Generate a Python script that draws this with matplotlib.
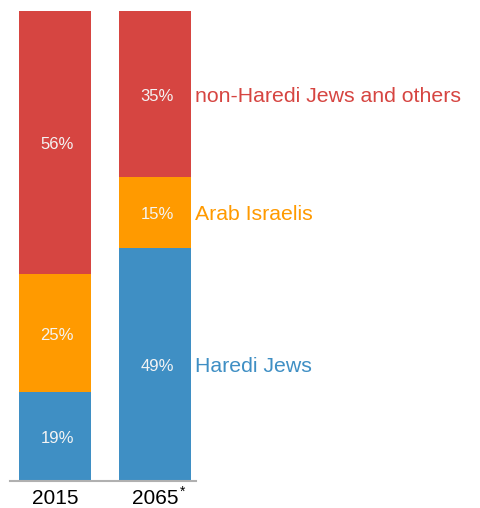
import matplotlib
matplotlib.use("Agg")
import matplotlib.pyplot as plt
import numpy as np

years = ["2015", "2065"]
groups = ["Haredi Jews", "Arab Israelis", "non-Haredi Jews and others"]
values = {
    "Haredi Jews": [19, 49],
    "Arab Israelis": [25, 15],
    "non-Haredi Jews and others": [56, 35],
}
colors = {
    "Haredi Jews": "#3f8fc4",
    "Arab Israelis": "#ff9a00",
    "non-Haredi Jews and others": "#d64541",
}

plt.rcParams['font.family'] = ['Liberation Sans', 'DejaVu Sans']

fig = plt.figure(figsize=(4.81, 5.08), dpi=100)
ax = fig.add_axes([10/481, 27/508, 186/481, 470/508])

x = np.arange(len(years))
totals = np.sum([values[g] for g in groups], axis=0)
bottom = np.zeros(len(years))
width = 0.72
for g in groups:
    v = np.array(values[g], dtype=float)
    h = v / totals * 100
    ax.bar(x, h, width, bottom=bottom, color=colors[g], linewidth=0)
    for i in range(len(years)):
        ax.annotate(f"{values[g][i]}%", (x[i] + 0.02, bottom[i] + h[i] / 2),
                    xytext=(0, -1.5), textcoords="offset points", color="#f4f4f4",
                    ha="center", va="center", fontsize=12)
    ax.annotate(g, (x[-1] + width / 2 + 0.04, bottom[-1] + h[-1] / 2),
                xytext=(0, -1.5), textcoords="offset points", color=colors[g],
                ha="left", va="center", fontsize=15.3, annotation_clip=False)
    bottom += h

ax.set_xlim(-0.45, 1.41)
ax.set_ylim(0, 100)
ax.set_xticks(x)
ax.set_xticklabels(years, fontsize=15)
ax.tick_params(axis='x', length=0, pad=6)
ax.text(x[-1] + 0.25, -0.008, "*", transform=ax.get_xaxis_transform(),
        ha="left", va="top", fontsize=10, clip_on=False)
ax.set_yticks([])
for s in ["top", "right", "left"]:
    ax.spines[s].set_visible(False)
ax.spines["bottom"].set_color("#b0b0b0")
ax.spines["bottom"].set_linewidth(1.5)

fig.savefig("out.png", dpi=100)
